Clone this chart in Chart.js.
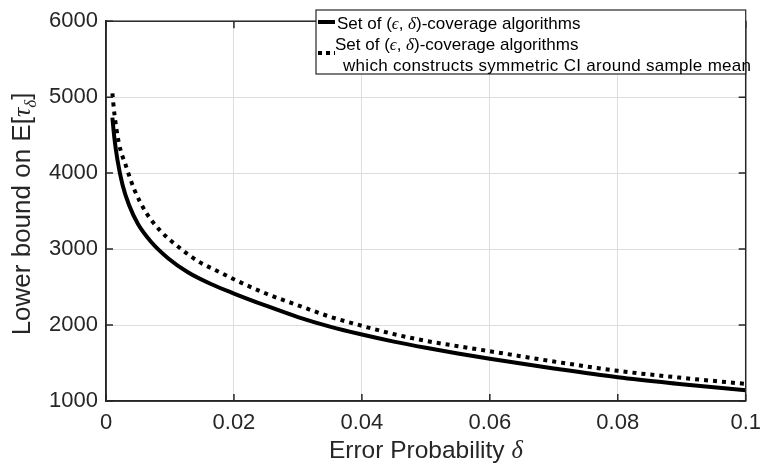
<!DOCTYPE html>
<html>
<head>
<meta charset="utf-8">
<script src="https://cdn.jsdelivr.net/npm/chart.js@4.4.1/dist/chart.umd.min.js"></script>
<style>
  html, body { margin: 0; padding: 0; background: #ffffff; }
  #wrap { width: 770px; height: 470px; position: relative; }
</style>
</head>
<body>
<div id="wrap"><canvas id="c" width="770" height="470"></canvas></div>
<script>
// ---- data ----
const solidDelta = [0.001, 0.0013, 0.0018, 0.0026, 0.0036, 0.005, 0.007, 0.0097, 0.0128, 0.0164, 0.02, 0.025, 0.03, 0.035, 0.04, 0.045, 0.05, 0.055, 0.06, 0.07, 0.08, 0.09, 0.1];
const solidBound = [4730, 4470, 4170, 3840, 3580, 3330, 3100, 2880, 2695, 2540, 2415, 2255, 2105, 1980, 1875, 1782, 1700, 1625, 1555, 1428, 1312, 1222, 1140];

const dottedDelta = [0.001, 0.0013, 0.002, 0.0031, 0.0044, 0.0062, 0.0085, 0.0113, 0.0144, 0.0179, 0.0203, 0.025, 0.03, 0.035, 0.04, 0.045, 0.05, 0.055, 0.06, 0.07, 0.08, 0.09, 0.1];
const dottedBound = [5050, 4790, 4400, 4100, 3790, 3490, 3240, 3030, 2840, 2690, 2590, 2415, 2260, 2110, 1990, 1880, 1792, 1722, 1655, 1520, 1397, 1305, 1225];

const xTicks = [0, 0.02, 0.04, 0.06, 0.08, 0.1];
const yTicks = [1000, 2000, 3000, 4000, 5000, 6000];

const seriesNames = ["Set of (\u03F5, \u03B4)-coverage algorithms",
                     "Set of (\u03F5, \u03B4)-coverage algorithms",
                     " which constructs symmetric CI around sample mean"];
const xTitle = "Error Probability ";
const yTitle = "Lower bound on E[";

const INK = '#262626';
const SANS = '"Liberation Sans", Arial, Helvetica, sans-serif';
const SERIF_I = 'italic {s}px "Liberation Serif", "DejaVu Serif", serif';

function pts(xs, ys) { return xs.map((x, i) => ({ x: x, y: ys[i] })); }

function segWidth(ctx, segs) {
  let w = 0;
  segs.forEach(s => { ctx.font = s[1]; w += ctx.measureText(s[0]).width; });
  return w;
}
function drawSegs(ctx, segs, x, y) {
  segs.forEach(s => {
    ctx.font = s[1];
    ctx.fillText(s[0], x, y + (s[2] || 0));
    x += ctx.measureText(s[0]).width;
  });
  return x;
}

const deco = {
  id: 'deco',
  afterDraw(chart) {
    const ctx = chart.ctx, a = chart.chartArea;
    const xs = chart.scales.x, ys = chart.scales.y;
    ctx.save();
    // axes box
    ctx.strokeStyle = INK; ctx.lineWidth = 1.5;
    ctx.strokeRect(a.left, a.top, a.right - a.left, a.bottom - a.top);
    // inward tick marks on all four sides
    const TL = 7;
    ctx.beginPath();
    xTicks.forEach(v => {
      const p = xs.getPixelForValue(v);
      ctx.moveTo(p, a.bottom); ctx.lineTo(p, a.bottom - TL);
      ctx.moveTo(p, a.top); ctx.lineTo(p, a.top + TL);
    });
    yTicks.forEach(v => {
      const p = ys.getPixelForValue(v);
      ctx.moveTo(a.left, p); ctx.lineTo(a.left + TL, p);
      ctx.moveTo(a.right, p); ctx.lineTo(a.right - TL, p);
    });
    ctx.stroke();

    // legend box
    const lx0 = 316, ly0 = 10, lx1 = a.right, ly1 = 74;
    ctx.fillStyle = '#ffffff';
    ctx.fillRect(lx0, ly0, lx1 - lx0, ly1 - ly0);
    ctx.strokeStyle = INK; ctx.lineWidth = 1.2;
    ctx.strokeRect(lx0, ly0, lx1 - lx0, ly1 - ly0);
    // solid sample
    ctx.strokeStyle = '#000'; ctx.lineWidth = 4; ctx.lineCap = 'butt';
    ctx.beginPath(); ctx.moveTo(318, 22); ctx.lineTo(335, 22); ctx.stroke();
    // dotted sample
    ctx.setLineDash([4, 4]);
    ctx.beginPath(); ctx.moveTo(318, 53); ctx.lineTo(335, 53); ctx.stroke();
    ctx.setLineDash([]);
    // legend text
    ctx.fillStyle = '#000';
    ctx.textBaseline = 'alphabetic'; ctx.textAlign = 'left';
    const fs = 17;
    const sans = fs + 'px ' + SANS;
    const ital = SERIF_I.replace('{s}', fs);
    const lab = (y, x) => drawSegs(ctx, [["Set of (", sans], ["\u03F5", ital], [", ", sans], ["\u03B4", ital], [")-coverage algorithms", sans]], x, y);
    lab(28.5, 337);
    lab(49.5, 335);
    ctx.font = sans;
    if ('letterSpacing' in ctx) ctx.letterSpacing = '0.3px';
    ctx.fillText("which constructs symmetric CI around sample mean", 343, 70.5);
    if ('letterSpacing' in ctx) ctx.letterSpacing = '0px';

    // x title
    ctx.fillStyle = INK;
    const tfs = 24.5;
    const xsegs = [[xTitle, tfs + 'px ' + SANS], ["\u03B4", SERIF_I.replace('{s}', tfs)]];
    const xw = segWidth(ctx, xsegs);
    drawSegs(ctx, xsegs, (a.left + a.right) / 2 - xw / 2, 458);

    // y title (rotated)
    const yfs = 26;
    const ysegs = [[yTitle, yfs + 'px ' + SANS], ["\u03C4", SERIF_I.replace('{s}', yfs)],
                   ["\u03B4", SERIF_I.replace('{s}', 17), 6], ["]", yfs + 'px ' + SANS]];
    const yw = segWidth(ctx, ysegs);
    ctx.translate(30, 214);
    ctx.rotate(-Math.PI / 2);
    drawSegs(ctx, ysegs, -yw / 2, 0);
    ctx.restore();
  }
};

new Chart(document.getElementById('c'), {
  type: 'line',
  data: {
    datasets: [
      { label: seriesNames[0], data: pts(solidDelta, solidBound), borderColor: '#000', borderWidth: 4,
        pointRadius: 0, cubicInterpolationMode: 'monotone', borderCapStyle: 'butt', fill: false },
      { label: seriesNames[1] + seriesNames[2], data: pts(dottedDelta, dottedBound), borderColor: '#000', borderWidth: 4,
        borderDash: [4, 5], pointRadius: 0, cubicInterpolationMode: 'monotone', borderCapStyle: 'butt', fill: false }
    ]
  },
  options: {
    responsive: false,
    animation: false,
    devicePixelRatio: 1,
    layout: { padding: { left: 0, top: 11, right: 14, bottom: 0 } },
    plugins: { legend: { display: false }, tooltip: { enabled: false } },
    font: { family: SANS },
    scales: {
      x: {
        type: 'linear', min: 0, max: 0.1,
        afterFit: s => { s.height = 69; },
        afterBuildTicks: s => { s.ticks = xTicks.map(v => ({ value: v })); },
        ticks: { autoSkip: false, maxRotation: 0, padding: 9, color: INK,
                 font: { family: SANS, size: 22 }, callback: v => String(+v.toFixed(2)) },
        grid: { color: '#dedede', lineWidth: 1, drawTicks: false },
        border: { display: true, color: INK, width: 1.5 }
      },
      y: {
        min: 1000, max: 6000,
        afterFit: s => { s.width = 106; },
        afterBuildTicks: s => { s.ticks = yTicks.map(v => ({ value: v })); },
        ticks: { padding: 8, color: INK, font: { family: SANS, size: 22 }, callback: v => String(v) },
        grid: { color: '#dedede', lineWidth: 1, drawTicks: false },
        border: { display: true, color: INK, width: 1.5 }
      }
    }
  },
  plugins: [deco]
});
</script>
</body>
</html>
